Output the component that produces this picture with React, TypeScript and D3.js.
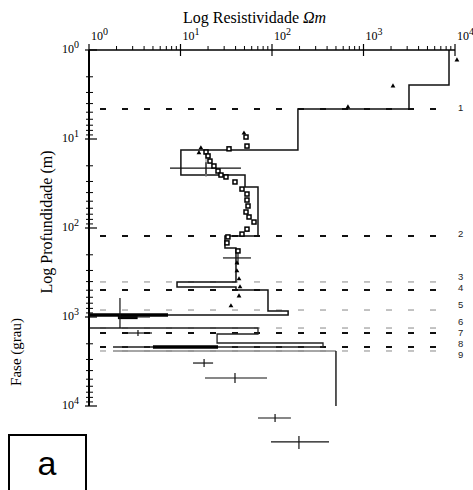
import React from "react";
import * as d3 from "d3";

// layered model (resistivity Ohm.m, depth m)
const modelMain: [number, number][] = [
  [8600, 1], [8600, 2.47], [3142, 2.47], [3142, 4.6], [192, 4.6], [192, 13.3],
  [10.1, 13.3], [10.1, 25.4], [50.7, 25.4], [50.7, 34.6], [70.3, 34.6], [70.3, 123],
  [30.6, 123], [30.6, 168], [40.4, 168], [40.4, 404], [9.16, 404], [9.16, 460],
  [40.4, 460], [40.4, 497], [90.4, 497], [90.4, 857], [150, 857], [150, 950], [1, 950],
];
const modelDeep: [number, number][] = [
  [1, 1330], [70.3, 1330], [70.3, 1553], [25.1, 1553], [25.1, 1960],
  [361, 1960], [361, 2173], [1.83, 2173],
];
const modelGray: [number, number][] = [[1.83, 2410], [500, 2410]];
const modelTail: [number, number][] = [[500, 2410], [500, 10000]];
const grayLine: [number, number][] = [[19, 13.3], [19, 26.7]];
const thickSegs: [number, number][][] = [
  [[1, 950], [7.3, 950]],
  [[5, 2173], [25.7, 2173]],
  [[2.07, 1010], [3.4, 1010]],
];

// apparent resistivity points
const triPoints: [number, number][] = [
  [10500, 1.3], [2100, 2.54], [676, 4.37], [49.4, 8.6], [16.7, 12.6], [15.9, 14.3],
  [41.4, 247], [41.4, 304], [43.6, 374], [44.7, 460], [43.6, 581], [35.6, 752],
];
const sqPoints: [number, number][] = [
  [52, 9.5], [33.9, 12.9], [53.3, 12.0], [19.0, 14.0], [20.0, 15.5], [21.0, 17.7],
  [23.2, 20.1], [25.7, 22.9], [27.7, 25.4], [31.4, 26.7], [39.4, 30.4], [47.0, 36.5],
  [53.3, 41.5], [53.3, 48.5], [54.7, 56.6], [52.0, 66.1], [56.1, 75.2], [63.6, 85.7],
  [53.3, 103], [47.0, 117], [33.0, 126], [32.2, 147], [42.5, 181],
];

// error crosses: [rho, depth, rhoMin, rhoMax, depthMin, depthMax]
const crosses: number[][] = [
  [19.0, 21.2, 7.68, 45.8, 18.2, 24.7],
  [42.5, 217, 29.1, 58.9, 186, 261],
  [2.18, 1000, 2.07, 4.64, 612, 1330],
  [3.43, 1513, 2.47, 4.88, 1400, 1630],
  [18.1, 3290, 13.7, 22.7, 2965, 3648],
  [39.4, 4845, 18.5, 88.2, 4257, 5517],
  [108, 13640, 70.3, 161, 12300, 15130],
  [197, 25360, 97.5, 420, 21700, 30400],
];

// layer boundaries
const boundDepths = [4.6, 123, 404, 497, 835, 1330, 1513, 2173, 2410];
const boundLabels = ["1", "2", "3", "4", "5", "6", "7", "8", "9"];
const boundGray = [false, false, true, false, true, true, false, false, true];
const labelShift = [2, 1, -2, 1, -2, -3, 3, 0, 7];

const decades = [1, 10, 100, 1000, 10000];
const decadeExp = ["0", "1", "2", "3", "4"];

const x = d3.scaleLog().domain([1, 1e4]).range([89, 455]);
const y = d3.scaleLog().domain([1, 1e4]).range([50, 406]);
const line = d3.line<[number, number]>().x((d) => x(d[0])).y((d) => y(d[1]));

const minors: number[] = [];
decades.slice(0, 4).forEach((d) => {
  for (let k = 2; k <= 9; k++) minors.push(d * k);
});

const serif = "'Liberation Serif', 'DejaVu Serif', serif";

export default function App() {
  return (
    <svg
      width={473}
      height={490}
      style={{ position: "absolute", left: 0, top: 0, background: "#fff" }}
    >
      <rect width={473} height={490} fill="#fff" />

      {/* layer boundaries */}
      {boundDepths.map((d, i) => (
        <g key={"b" + i}>
          <line
            x1={100}
            x2={452}
            y1={y(d)}
            y2={y(d)}
            stroke={boundGray[i] ? "#888" : "#111"}
            strokeWidth={boundGray[i] ? 1 : 1.8}
            strokeDasharray="6,16"
          />
          <text
            x={458}
            y={y(d) + labelShift[i]}
            fontFamily="'Liberation Sans', sans-serif"
            fontSize={9.5}
            fill="#222"
          >
            {boundLabels[i]}
          </text>
        </g>
      ))}

      {/* model */}
      <path d={line(modelMain) || ""} fill="none" stroke="#111" strokeWidth={1.5} />
      <path d={line(modelDeep) || ""} fill="none" stroke="#222" strokeWidth={1.3} />
      <path d={line(modelGray) || ""} fill="none" stroke="#888" strokeWidth={1.5} />
      <path d={line(modelTail) || ""} fill="none" stroke="#222" strokeWidth={1.5} />
      <path d={line(grayLine) || ""} fill="none" stroke="#888" strokeWidth={1} />
      {thickSegs.map((s, i) => (
        <path key={"t" + i} d={line(s as [number, number][]) || ""} stroke="#000" strokeWidth={3.5} />
      ))}

      {/* error crosses */}
      {crosses.map((c, i) => (
        <g key={"c" + i} stroke="#111" strokeWidth={1.2}>
          <line x1={x(c[2])} x2={x(c[3])} y1={y(c[1])} y2={y(c[1])} />
          <line x1={x(c[0])} x2={x(c[0])} y1={y(c[4])} y2={y(c[5])} />
        </g>
      ))}

      {/* data */}
      {sqPoints.map((p, i) => (
        <rect
          key={"s" + i}
          x={x(p[0]) - 2}
          y={y(p[1]) - 2}
          width={4}
          height={4}
          fill="#fff"
          stroke="#000"
          strokeWidth={1.5}
        />
      ))}
      {triPoints.map((p, i) => (
        <path
          key={"p" + i}
          d={d3.symbol(d3.symbolTriangle, 10)() || ""}
          transform={`translate(${x(p[0])},${y(p[1])})`}
          fill="#000"
        />
      ))}

      {/* top axis */}
      <line x1={89} x2={455} y1={50} y2={50} stroke="#000" strokeWidth={1.5} />
      {minors.map((m, i) => (
        <line key={"mx" + i} x1={x(m)} x2={x(m)} y1={46} y2={50} stroke="#000" />
      ))}
      {decades.map((d, i) => (
        <g key={"dx" + i}>
          <line x1={x(d)} x2={x(d)} y1={44} y2={56} stroke="#000" strokeWidth={1.2} />
          <text x={x(d) + 2} y={40} fontFamily={serif} fontSize={12}>
            10
            <tspan fontSize={10} dy={-5}>
              {decadeExp[i]}
            </tspan>
          </text>
        </g>
      ))}

      {/* left axis */}
      <line x1={89} x2={89} y1={50} y2={406} stroke="#000" strokeWidth={2} />
      {minors.map((m, i) => (
        <line key={"my" + i} x1={86} x2={93} y1={y(m)} y2={y(m)} stroke="#000" />
      ))}
      {decades.map((d, i) => (
        <g key={"dy" + i}>
          <line x1={85} x2={97} y1={y(d)} y2={y(d)} stroke="#000" strokeWidth={1.2} />
          <text x={62} y={y(d) + 3} fontFamily={serif} fontSize={12}>
            10
            <tspan fontSize={10} dy={-5}>
              {decadeExp[i]}
            </tspan>
          </text>
        </g>
      ))}

      {/* titles */}
      <text x={183} y={23} fontFamily={serif} fontSize={16}>
        Log Resistividade <tspan fontStyle="italic">Ωm</tspan>
      </text>
      <text
        transform="translate(52,222) rotate(-90)"
        textAnchor="middle"
        fontFamily={serif}
        fontSize={16}
      >
        Log Profundidade (m)
      </text>
      <text
        transform="translate(21,352) rotate(-90)"
        textAnchor="middle"
        fontFamily={serif}
        fontSize={15}
      >
        Fase (grau)
      </text>

      {/* panel label */}
      <rect x={9} y={435} width={77} height={70} fill="none" stroke="#000" strokeWidth={2} />
      <text
        x={47}
        y={475}
        textAnchor="middle"
        fontFamily="'Liberation Sans', Arial, sans-serif"
        fontSize={34}
      >
        a
      </text>
    </svg>
  );
}
